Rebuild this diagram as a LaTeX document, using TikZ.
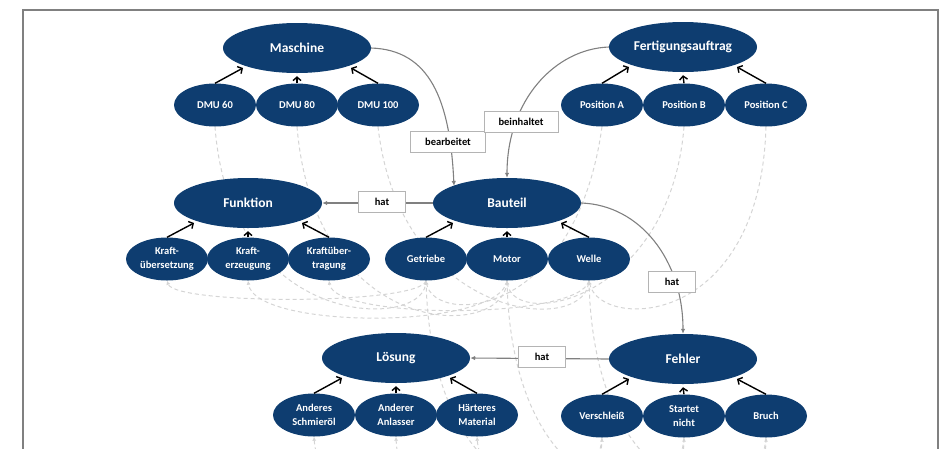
\documentclass[tikz,border=0pt]{standalone}
\usepackage{fontspec}
\setmainfont{Carlito}
\usetikzlibrary{shapes.geometric,arrows.meta,calc}
\definecolor{navy}{RGB}{14,61,112}
\definecolor{relgray}{RGB}{128,128,128}
\definecolor{boxgray}{RGB}{180,180,180}
\definecolor{dashgray}{RGB}{212,212,212}
\pgfdeclarelayer{bg}
\pgfsetlayers{bg,main}
\begin{document}
\begin{tikzpicture}[x=1pt,y=-1pt,
  cls/.style={ellipse,fill=navy,text=white,font=\bfseries\fontsize{13.5}{15}\selectfont,minimum width=148pt,minimum height=50pt,inner sep=0pt},
  inst/.style={ellipse,fill=navy,text=white,font=\bfseries\fontsize{10.5}{14}\selectfont,minimum width=82pt,minimum height=43pt,inner sep=0pt,align=center},
  rel/.style={draw=boxgray,line width=0.7pt,fill=white,font=\bfseries\fontsize{10.5}{12}\selectfont,minimum height=21pt,inner sep=0pt},
  isa/.style={line width=1.4pt,-{Straight Barb[length=3.5pt,width=8pt]}},
  relarrow/.style={draw=relgray,line width=1.1pt,-{Latex[length=5pt,width=4.5pt]}},
  link/.style={draw=dashgray,line width=1pt,dash pattern=on 4pt off 3pt,-{Latex[length=4pt,width=4pt]}},
  frame/.style={draw=relgray,line width=1.5pt}
]
\useasboundingbox (0,0) rectangle (950,448);
\draw[frame] (23,470) -- (23,10) -- (938,10) -- (938,470);

% class nodes
\node[cls] (Maschine) at (297,48) {Maschine};
\node[cls] (Auftrag) at (683,47) {Fertigungsauftrag};
\node[cls] (Funktion) at (248,203) {Funktion};
\node[cls] (Bauteil) at (507,203) {Bauteil};
\node[cls] (Loesung) at (396,358) {Lösung};
\node[cls] (Fehler) at (683,359) {Fehler};

% instance nodes
\node[inst] (DMU60) at (215,105) {DMU 60};
\node[inst] (DMU80) at (297,105) {DMU 80};
\node[inst] (DMU100) at (378,105) {DMU 100};
\node[inst] (PosA) at (602,105) {Position A};
\node[inst] (PosB) at (684,105) {Position B};
\node[inst] (PosC) at (766,105) {Position C};
\node[inst] (KUe) at (167,259) {Kraft-\\übersetzung};
\node[inst] (KEr) at (248,259) {Kraft-\\erzeugung};
\node[inst] (KUt) at (329,259) {Kraftüber-\\tragung};
\node[inst] (Getriebe) at (426,259) {Getriebe};
\node[inst] (Motor) at (507,259) {Motor};
\node[inst] (Welle) at (589,259) {Welle};
\node[inst] (Schmier) at (314,415) {Anderes\\Schmieröl};
\node[inst] (Anlasser) at (396,415) {Anderer\\Anlasser};
\node[inst] (Material) at (477,415) {Härteres\\Material};
\node[inst] (Verschleiss) at (602,416) {Verschleiß};
\node[inst] (Startet) at (684,416) {Startet\\nicht};
\node[inst] (Bruch) at (766,416) {Bruch};

% instance links (background)
\begin{pgfonlayer}{bg}
\clip (0,0) rectangle (950,448);
\draw[link] (DMU60.south) .. controls (230,330) and (420,330) .. (Getriebe.south);
\draw[link] (DMU80.south) .. controls (315,340) and (500,340) .. (Motor.south);
\draw[link] (DMU100.south) .. controls (400,320) and (580,335) .. (Welle.south);
\draw[link] (PosA.south) .. controls (575,320) and (435,325) .. (Getriebe.south);
\draw[link] (PosB.south) .. controls (670,300) and (515,330) .. (Motor.south);
\draw[link] (PosC.south) .. controls (760,330) and (600,330) .. (Welle.south);
\draw[link] (Getriebe.south) .. controls (420,305) and (175,305) .. (KUe.south);
\draw[link] (Motor.south) .. controls (500,330) and (255,330) .. (KEr.south);
\draw[link] (Welle.south) .. controls (580,320) and (335,320) .. (KUt.south);
\draw[link] (Getriebe.south) .. controls (432,520) and (600,520) .. (Verschleiss.south);
\draw[link] (Motor.south) .. controls (512,520) and (684,520) .. (Startet.south);
\draw[link] (Welle.south) .. controls (594,520) and (766,520) .. (Bruch.south);
\draw[link] (Verschleiss.south) .. controls (595,540) and (320,540) .. (Schmier.south);
\draw[link] (Startet.south) .. controls (675,560) and (400,560) .. (Anlasser.south);
\draw[link] (Bruch.south) .. controls (760,540) and (485,540) .. (Material.south);
\end{pgfonlayer}

% is-a arrows
\foreach \p/\l/\m/\r in {Maschine/DMU60/DMU80/DMU100, Auftrag/PosA/PosB/PosC, Funktion/KUe/KEr/KUt, Bauteil/Getriebe/Motor/Welle, Loesung/Schmier/Anlasser/Material, Fehler/Verschleiss/Startet/Bruch}{
  \draw[isa] (\l.north) -- ($(\p.center)+(-54,20)$);
  \draw[isa] (\m.north) -- ($(\p.south)+(0,3)$);
  \draw[isa] (\r.north) -- ($(\p.center)+(54,20)$);
}

% relations
\draw[relarrow] (Bauteil.west) -- (Funktion.east);
\draw[relarrow] (Maschine.east) .. controls (430,50) and (450,100) .. ($(Bauteil.center)+(-53,-17)$);
\draw[relarrow] (Auftrag.west) .. controls (555,49) and (507,100) .. (Bauteil.north);
\draw[relarrow] (Bauteil.east) .. controls (640,205) and (683,260) .. (Fehler.north);
\draw[relarrow] (Fehler.west) -- (Loesung.east);

\node[rel,minimum width=47pt] (hat1) at (382,202) {hat};
\node[rel,minimum width=75pt] (bearb) at (448,142) {bearbeitet};
\node[rel,minimum width=74pt] (beinh) at (521,122) {beinhaltet};
\node[rel,minimum width=47pt] (hat2) at (672,282) {hat};
\node[rel,minimum width=47pt] (hat3) at (542,357) {hat};
\end{tikzpicture}
\end{document}
